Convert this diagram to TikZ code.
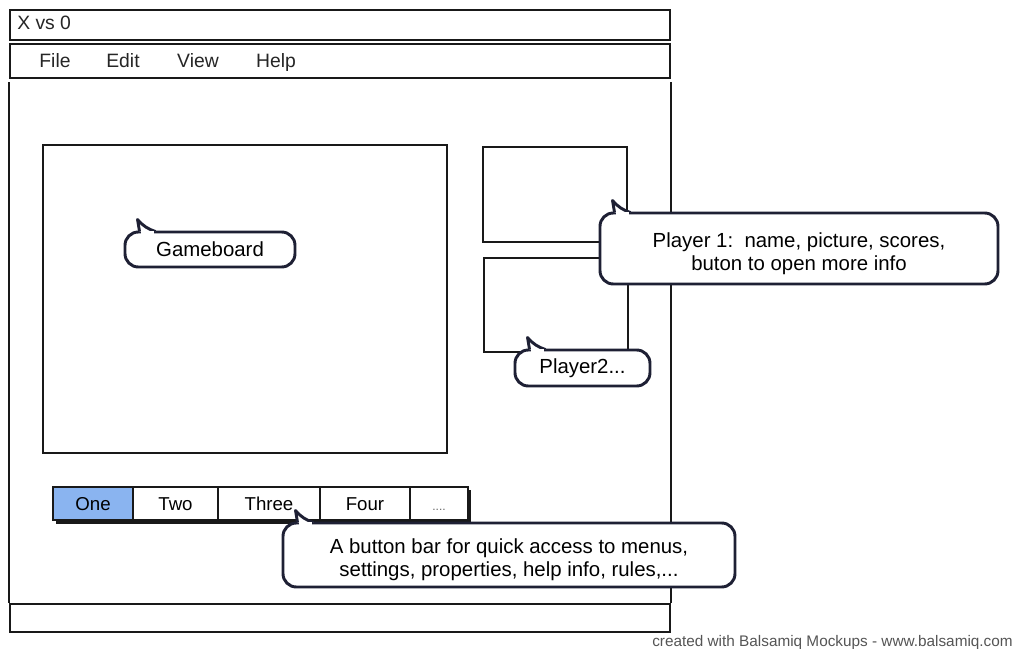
\documentclass[tikz,border=0pt]{standalone}
\usepackage{fontspec}
\setmainfont{Liberation Sans}
\usetikzlibrary{calc}
\definecolor{ink}{RGB}{30,32,52}
\definecolor{frameink}{RGB}{25,25,25}
\definecolor{btnblue}{RGB}{138,180,240}
\definecolor{foot}{RGB}{85,85,85}
\tikzset{
  frame/.style={draw=frameink, line width=1.5pt, fill=white, inner sep=0pt},
  panel/.style={draw=frameink, line width=1.3pt, inner sep=0pt},
  callout/.style={draw=ink, line width=2.2pt, fill=white, rounded corners=10pt, inner sep=0pt, align=center, font=\fontsize{15.3}{17.3}\selectfont},
  twoline/.style={text height=32.8pt, text depth=0pt},
  tail/.style={draw=ink, line width=2.2pt, fill=white, line join=round},
  label/.style={font=\fontsize{14.5}{17}\selectfont, inner sep=0pt, text=black!85, anchor=base},
  btn/.style={draw=frameink, line width=1.2pt, fill=white, minimum height=24.75pt, inner sep=0pt, text height=10.4pt, text depth=0pt, font=\fontsize{14}{17}\selectfont},
}
\begin{document}
\begin{tikzpicture}[x=0.75pt,y=-0.75pt]
\useasboundingbox[fill=white] (0,0) rectangle (1015,649);
% window
\node[frame, minimum width=495pt, minimum height=22.5pt] (title) at (340,25) {};
\node[label, anchor=base west] (titletext) at (17,30) {X vs 0};
\node[frame, minimum width=495pt, minimum height=25.5pt] (menu) at (340,61.5) {};
\node[label] (mfile) at (55,68) {File};
\node[label] (medit) at (123,68) {Edit};
\node[label] (mview) at (198,68) {View};
\node[label] (mhelp) at (276,68) {Help};
\node[frame, minimum width=495pt, minimum height=21pt] (status) at (340,618) {};
\draw[frameink, line width=1.3pt] (menu.south west) ++(0,3) -- (status.north west);
\draw[frameink, line width=1.3pt] (menu.south east) ++(0,3) -- (status.north east);
% panels
\node[panel, minimum width=303pt, minimum height=231pt] (board) at (245,299) {};
\node[panel, minimum width=108pt, minimum height=71.25pt] (p1) at (555,194.5) {};
\node[panel, minimum width=108pt, minimum height=70.5pt] (p2) at (556,305) {};
% button bar
\fill[black!90] (56,490) rectangle (471,524);
\node[btn, fill=btnblue, minimum width=60pt] (b1) at (93,503.5) {One};
\node[btn, minimum width=63.75pt] (b2) at (175.5,503.5) {Two};
\node[btn, minimum width=76.5pt] (b3) at (269,503.5) {Three};
\node[btn, minimum width=67.5pt] (b4) at (365,503.5) {Four};
\node[btn, minimum width=43.5pt, font=\fontsize{9}{10}\selectfont, text=black!60] (b5) at (439,503.5) {....};
% callouts
\node[callout, minimum width=127.5pt, minimum height=26.25pt] (cgb) at (210,249.5) {Gameboard};
\draw[tail] ($(cgb.north west)+(16,1)$) -- ($(cgb.north west)+(14,-11)$) to[bend right=15] ($(cgb.north west)+(32,1)$);
\fill[white] ($(cgb.north west)+(17.5,0)$) rectangle ($(cgb.north west)+(30,3)$);

\node[callout, twoline, minimum width=298.5pt, minimum height=53.25pt] (cp1) at (799,248.5) {Player 1:\ \ name, picture, scores,\\buton to open more info};
\draw[tail] ($(cp1.north west)+(16,1)$) -- ($(cp1.north west)+(14,-11)$) to[bend right=15] ($(cp1.north west)+(32,1)$);
\fill[white] ($(cp1.north west)+(17.5,0)$) rectangle ($(cp1.north west)+(30,3)$);

\node[callout, minimum width=101.25pt, minimum height=27pt] (cp2) at (582.5,368) {Player2...};
\draw[tail] ($(cp2.north west)+(16,1)$) -- ($(cp2.north west)+(14,-11)$) to[bend right=15] ($(cp2.north west)+(32,1)$);
\fill[white] ($(cp2.north west)+(17.5,0)$) rectangle ($(cp2.north west)+(30,3)$);

\node[callout, twoline, minimum width=339pt, minimum height=48pt] (cbb) at (509,555) {A button bar for quick access to menus,\\settings, properties, help info, rules,...};
\draw[tail] ($(cbb.north west)+(16,1)$) -- ($(cbb.north west)+(14,-11)$) to[bend right=15] ($(cbb.north west)+(32,1)$);
\fill[white] ($(cbb.north west)+(17.5,0)$) rectangle ($(cbb.north west)+(30,3)$);
% footer
\node[anchor=base east, inner sep=0pt, text=foot, font=\fontsize{11.5}{13}\selectfont] (footer) at (1013,646) {created with Balsamiq Mockups - www.balsamiq.com};
\end{tikzpicture}
\end{document}
